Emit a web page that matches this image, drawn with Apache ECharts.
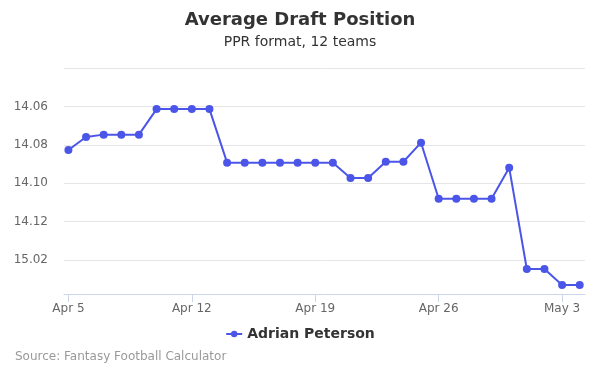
<!DOCTYPE html>
<html>
<head>
<meta charset="utf-8">
<script src="https://cdn.jsdelivr.net/npm/echarts@6/dist/echarts.min.js"></script>
<style>html,body{margin:0;padding:0;background:#fff}#c{width:600px;height:375px}</style>
</head>
<body>
<div id="c"></div>
<script>
// Dates (Apr 5 .. May 4), one point per day
var dates = ['Apr 5','Apr 6','Apr 7','Apr 8','Apr 9','Apr 10','Apr 11','Apr 12','Apr 13','Apr 14',
  'Apr 15','Apr 16','Apr 17','Apr 18','Apr 19','Apr 20','Apr 21','Apr 22','Apr 23','Apr 24',
  'Apr 25','Apr 26','Apr 27','Apr 28','Apr 29','Apr 30','May 1','May 2','May 3','May 4'];
// ADP as overall pick number (12-team league)
var adp = [164.27,163.59,163.47,163.47,163.47,162.14,162.14,162.14,162.14,164.93,
  164.93,164.93,164.93,164.93,164.93,164.93,165.73,165.73,164.88,164.88,
  163.89,166.81,166.81,166.81,166.81,165.19,170.47,170.47,171.30,171.30];
var xTickIdx = [0,7,14,21,28];
var yTickVals = [162,164,166,168,170];
var teams = 12;
var seriesName = 'Adrian Peterson';

function pickLabel(v){
  var r = Math.floor((v-1)/teams)+1;
  var p = v-(r-1)*teams;
  return r + '.' + (p<10?'0':'') + p;
}

var chart = echarts.init(document.getElementById('c'));
chart.setOption({
  animation:false,
  textStyle:{fontFamily:'DejaVu Sans'},
  title:[
    {text:'Average Draft Position',left:'center',top:6,textStyle:{fontSize:18,fontWeight:'bold',color:'#333'}},
    {text:'PPR format, 12 teams',left:'center',top:30,textStyle:{fontSize:14,fontWeight:'normal',color:'#333'}},
    {text:'Source: Fantasy Football Calculator',left:10,top:346,textStyle:{fontSize:12,fontWeight:'normal',color:'#999'}}
  ],
  legend:{top:322,left:'center',itemWidth:16,itemHeight:8,
    textStyle:{fontSize:14,fontWeight:'bold',color:'#333'},data:[seriesName]},
  grid:{left:64,right:15,top:68,bottom:81},
  xAxis:{type:'value',min:-0.25,max:29.3,
    axisLine:{lineStyle:{color:'#ccd6eb'}},
    axisTick:{customValues:xTickIdx,length:8,lineStyle:{color:'#ccd6eb'}},
    axisLabel:{customValues:xTickIdx,color:'#666',fontSize:12,margin:9,formatter:function(v){return dates[v];}},
    splitLine:{show:false}},
  yAxis:{type:'value',inverse:true,min:160,max:171.77,interval:2,
    axisLine:{show:false},axisTick:{show:false},
    axisLabel:{customValues:yTickVals,color:'#666',fontSize:12,margin:16,formatter:function(v){return pickLabel(v);}},
    splitLine:{showMaxLine:false,lineStyle:{color:'#e6e6e6'}}
  },
  series:[{name:seriesName,type:'line',data:adp.map(function(v,i){return [i,v];}),
    symbol:'circle',symbolSize:8,itemStyle:{color:'#4b56e8'},lineStyle:{width:2,color:'#4b56e8'}}]
});
</script>
</body>
</html>
